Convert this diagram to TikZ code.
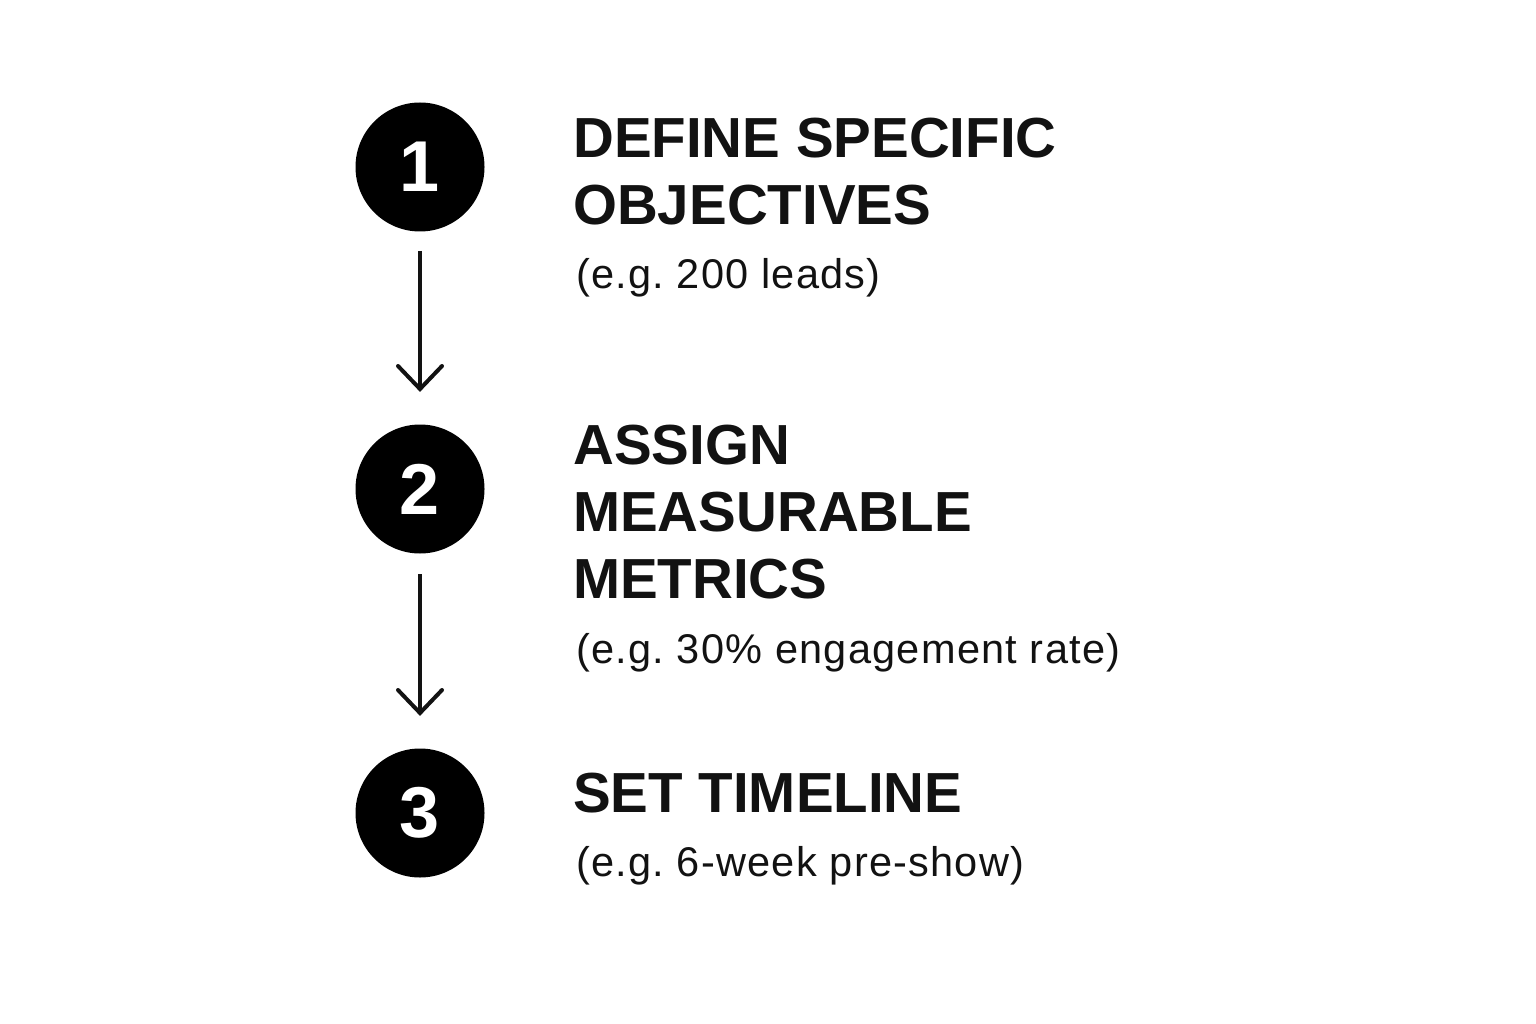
\documentclass[tikz,border=0pt]{standalone}
\usepackage{fontspec}
\setmainfont{Liberation Sans}
\newfontfamily\subfont[LetterSpace=3]{Liberation Sans}
\frenchspacing
\begin{document}
\begin{tikzpicture}[x=1pt,y=-1pt,
  stepcircle/.style={circle,fill=black,minimum size=129pt,inner sep=0pt,text=white,font=\fontsize{72}{72}\selectfont\bfseries},
  titletext/.style={anchor=base west,align=left,inner sep=0pt,text=black!93,font=\fontsize{56.5}{67}\selectfont\bfseries},
  subtext/.style={anchor=base west,inner sep=0pt,text=black!93,font=\subfont\fontsize{41.5}{48}\selectfont},
  flowarrow/.style={line width=4pt,black!93}
]
\useasboundingbox[fill=white] (0,0) rectangle (1536,1024);
\node[stepcircle] (c1) at (420,167) {1};
\node[stepcircle] (c2) at (420,489) {2};
\node[stepcircle] (c3) at (420,813) {3};
\node[titletext] (t1) at (573,225) {DEFINE SPECIFIC\\OBJECTIVES};
\node[subtext] (s1) at (576,289) {(e.g. 200 leads)};
\node[titletext] (t2) at (573,598) {ASSIGN\\MEASURABLE\\METRICS};
\node[subtext] (s2) at (576,663) {(e.g. 30\% engagement rate)};
\node[titletext] (t3) at (573,812) {SET TIMELINE};
\node[subtext] (s3) at (576,876) {(e.g. 6-week pre-show)};
\coordinate (a1s) at (420,251);
\coordinate (a1e) at (420,389);
\coordinate (a2s) at (420,574);
\coordinate (a2e) at (420,713);
\draw[flowarrow] (a1s) -- (a1e);
\draw[flowarrow,line cap=round,line join=miter] ([shift={(-22,-23)}]a1e) -- (a1e) -- ([shift={(22,-23)}]a1e);
\draw[flowarrow] (a2s) -- (a2e);
\draw[flowarrow,line cap=round,line join=miter] ([shift={(-22,-23)}]a2e) -- (a2e) -- ([shift={(22,-23)}]a2e);
\end{tikzpicture}
\end{document}
